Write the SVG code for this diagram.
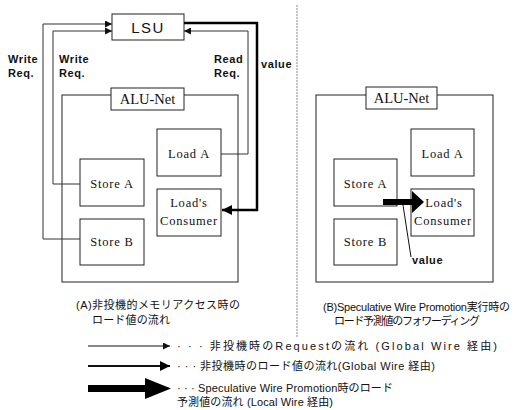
<svg xmlns="http://www.w3.org/2000/svg" width="521" height="410" viewBox="0 0 521 410">
<style>
.box{fill:#fff;stroke:#222;stroke-width:1}
.frame{fill:none;stroke:#222;stroke-width:1}
.ser{font-family:"Liberation Serif","DejaVu Serif","Times New Roman",serif;font-size:12.5px;fill:#111;letter-spacing:0.8px}
.alu{font-family:"Liberation Serif","DejaVu Serif","Times New Roman",serif;font-size:14.5px;fill:#111}
.lbl{font-family:"Liberation Sans",Arial,sans-serif;font-size:11px;font-weight:bold;fill:#111;letter-spacing:0.6px}
.jp{font-family:"Liberation Sans","Noto Sans CJK JP",sans-serif;font-size:11px;fill:#111}
.wire{fill:none;stroke:#333;stroke-width:1}
.thick{fill:none;stroke:#000;stroke-width:2.5}
</style>
<defs>
<marker id="ah" viewBox="0 0 10 10" refX="10" refY="5" markerWidth="7" markerHeight="7" markerUnits="userSpaceOnUse" orient="auto"><path d="M0,0L10,5L0,10z" fill="#111"/></marker>
<marker id="ahT" viewBox="0 0 10 10" refX="10" refY="5" markerWidth="11" markerHeight="10" markerUnits="userSpaceOnUse" orient="auto"><path d="M0,0L10,5L0,10z" fill="#000"/></marker>
</defs>

<!-- divider -->
<line x1="297" y1="5" x2="297" y2="338" stroke="#888" stroke-width="1" stroke-dasharray="2,1"/>

<!-- Panel A -->
<g id="lsu">
<rect class="box" x="112" y="14" width="72" height="26"/>
<text x="148" y="33" text-anchor="middle" font-family="Liberation Sans,Arial,sans-serif" font-size="15" letter-spacing="1.5" fill="#111">LSU</text>
</g>
<g id="aluA">
<rect class="frame" x="62" y="95" width="176" height="187"/>
<rect class="box" x="111" y="88" width="73" height="22"/>
<text class="alu" x="147.5" y="104" text-anchor="middle">ALU-Net</text>
</g>
<g id="loadA_A">
<rect class="box" x="157" y="129" width="64" height="47"/>
<text class="ser" x="189" y="158" text-anchor="middle">Load  A</text>
</g>
<g id="storeA_A">
<rect class="box" x="80" y="159" width="64" height="47"/>
<text class="ser" x="112" y="188" text-anchor="middle">Store  A</text>
</g>
<g id="storeB_A">
<rect class="box" x="80" y="219" width="64" height="46"/>
<text class="ser" x="112" y="246" text-anchor="middle">Store  B</text>
</g>
<g id="cons_A">
<rect class="box" x="157" y="189" width="64" height="47"/>
<text class="ser" x="189" y="207" text-anchor="middle">Load's</text>
<text class="ser" x="189" y="225" text-anchor="middle">Consumer</text>
</g>

<g id="labelsA">
<text class="lbl" x="8" y="63">Write</text>
<text class="lbl" x="8" y="77">Req.</text>
<text class="lbl" x="59" y="63">Write</text>
<text class="lbl" x="59" y="77">Req.</text>
<text class="lbl" x="214" y="63">Read</text>
<text class="lbl" x="214" y="77">Req.</text>
<text class="lbl" x="261" y="68">value</text>
</g>

<text class="jp" x="76" y="309" textLength="164" lengthAdjust="spacing">(A)非投機的メモリアクセス時の</text>
<text class="jp" x="92" y="324" textLength="78" lengthAdjust="spacing">ロード値の流れ</text>

<!-- Panel B -->
<g id="aluB">
<rect class="frame" x="316" y="95" width="177" height="187"/>
<rect class="box" x="366" y="87" width="71" height="22"/>
<text class="alu" x="401.5" y="103" text-anchor="middle">ALU-Net</text>
</g>
<g id="loadA_B">
<rect class="box" x="411" y="129" width="63" height="47"/>
<text class="ser" x="442.5" y="158" text-anchor="middle">Load  A</text>
</g>
<g id="storeA_B">
<rect class="box" x="334" y="159" width="63" height="47"/>
<text class="ser" x="365.5" y="188" text-anchor="middle">Store  A</text>
</g>
<g id="storeB_B">
<rect class="box" x="334" y="219" width="63" height="46"/>
<text class="ser" x="365.5" y="246" text-anchor="middle">Store  B</text>
</g>
<g id="cons_B">
<rect class="box" x="411" y="189" width="63" height="47"/>
<text class="ser" x="444" y="207" text-anchor="middle">Load's</text>
<text class="ser" x="443" y="225" text-anchor="middle">Consumer</text>
</g>
<text class="lbl" x="412" y="264">value</text>

<text class="jp" x="323" y="311" textLength="187" lengthAdjust="spacing">(B)Speculative Wire Promotion実行時の</text>
<text class="jp" x="334" y="325" textLength="146" lengthAdjust="spacing">ロード予測値のフォワーディング</text>

<g id="connectors">
<polyline class="wire" points="80,239 43,239 43,24 112,24" marker-end="url(#ah)"/>
<polyline class="wire" points="80,184 53,184 53,31 112,31" marker-end="url(#ah)"/>
<polyline class="wire" points="221,154 248,154 248,31 184,31" marker-end="url(#ah)"/>
<polyline class="thick" points="184,23 257,23 257,210 222,210" marker-end="url(#ahT)"/>
<polygon points="383,199 412,199 412,191 424,202 412,213 412,205 383,205" fill="#000"/>
<line x1="403" y1="205" x2="411" y2="257" stroke="#111" stroke-width="1"/>
</g>

<!-- Legend -->
<g id="legend">
<line x1="88" y1="346" x2="170" y2="346" stroke="#111" stroke-width="1" marker-end="url(#ah)"/>
<line x1="88" y1="366" x2="170" y2="366" stroke="#111" stroke-width="2.2" marker-end="url(#ahT)"/>
<polygon points="88,385 145,385 145,378 171,388.5 145,399 145,392 88,392" fill="#000"/>
<text class="jp" x="177" y="350" textLength="320" lengthAdjust="spacing">· · ·   非投機時のRequestの流れ (Global Wire 経由)</text>
<text class="jp" x="177" y="370" textLength="258" lengthAdjust="spacing">· · ·   非投機時のロード値の流れ(Global Wire 経由)</text>
<text class="jp" x="177" y="392" textLength="216" lengthAdjust="spacing">· · ·   Speculative Wire Promotion時のロード</text>
<text class="jp" x="177" y="406" textLength="156" lengthAdjust="spacing">予測値の流れ (Local Wire 経由)</text>
</g>
</svg>
